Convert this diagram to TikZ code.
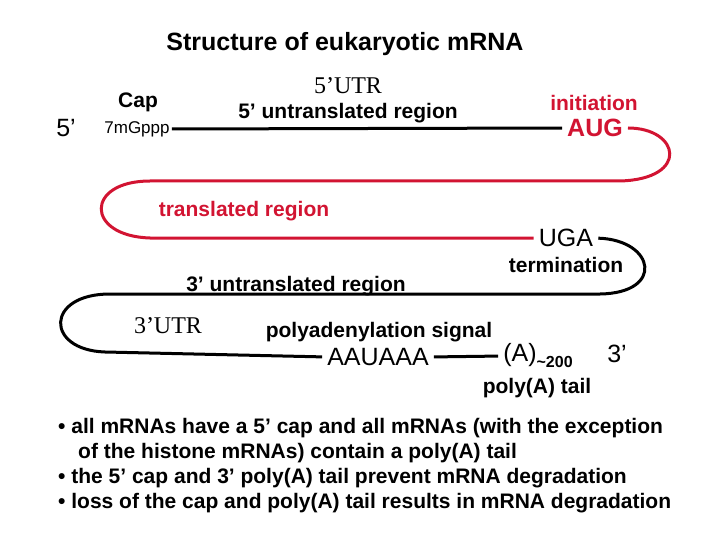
\documentclass[tikz,border=0pt]{standalone}
\usepackage{fontspec}
\setmainfont{Liberation Sans}
\newfontfamily\serifx{Liberation Serif}
\definecolor{mred}{RGB}{210,20,50}
\begin{document}
\begin{tikzpicture}[x=1pt,y=-1pt,
  lbl/.style={inner sep=0pt,font=\bfseries\fontsize{21}{23}\selectfont},
  big/.style={inner sep=0pt,font=\fontsize{25}{27}\selectfont},
  ser/.style={inner sep=0pt,font=\serifx\fontsize{24}{26}\selectfont},
  strand/.style={line width=3pt,shorten <=5pt,shorten >=5pt},
  red strand/.style={line width=3pt,draw=mred,shorten <=5pt,shorten >=5pt}]
\useasboundingbox (0,0) rectangle (720,540);
\node[lbl,font=\bfseries\fontsize{25}{27}\selectfont] (title) at (345,44) {Structure of eukaryotic mRNA};
\node[big] (five) at (66,128) {5’};
\node[lbl] (cap) at (138,102) {Cap};
\node[inner sep=0pt,font=\fontsize{17}{19}\selectfont] (gppp) at (137,129) {7mGppp};
\node[ser] (utr5) at (348,86) {5’UTR};
\node[lbl] (u5) at (348,113) {5’ untranslated region};
\node[lbl,text=mred] (init) at (594,103) {initiation};
\node[big,text=mred,font=\bfseries\fontsize{25}{27}\selectfont] (aug) at (595,128) {AUG};
\node[lbl,text=mred] (tr) at (244,211) {translated region};
\node[big] (uga) at (566,238) {UGA};
\node[lbl] (term) at (566,265) {termination};
\node[lbl] (u3) at (296,286) {3’ untranslated region};
\node[ser] (utr3) at (168,326) {3’UTR};
\node[lbl] (pas) at (379,332) {polyadenylation signal};
\node[big] (aau) at (378,357) {AAUAAA};
\node[big] (pa) at (538,356) {(A)\raisebox{-6pt}{\bfseries\fontsize{16}{17}\selectfont\textasciitilde200}};
\node[big] (three) at (617,354) {3’};
\node[lbl] (tail) at (537,388) {poly(A) tail};
\draw[strand,shorten <=2pt] (gppp.east) -- (aug.west);
\draw[red strand] (aug.east) .. controls (680,128) and (690,179) .. (620,181) -- (150,181)
  .. controls (85,181) and (85,236) .. (150,238) -- (uga.west);
\draw[strand] (uga.east) .. controls (655,240) and (665,293) .. (600,294) -- (110,294)
  .. controls (45,294) and (45,350) .. (105,352) -- (aau.west);
\draw[strand] (aau.east) -- (pa.west);
\node[anchor=west,inner sep=0pt,align=left,font=\bfseries\fontsize{21}{25}\selectfont] (notes) at (58,466) {%
• all mRNAs have a 5’ cap and all mRNAs (with the exception\\
\hspace*{20pt}of the histone mRNAs) contain a poly(A) tail\\
• the 5’ cap and 3’ poly(A) tail prevent mRNA degradation\\
• loss of the cap and poly(A) tail results in mRNA degradation};
\end{tikzpicture}
\end{document}
